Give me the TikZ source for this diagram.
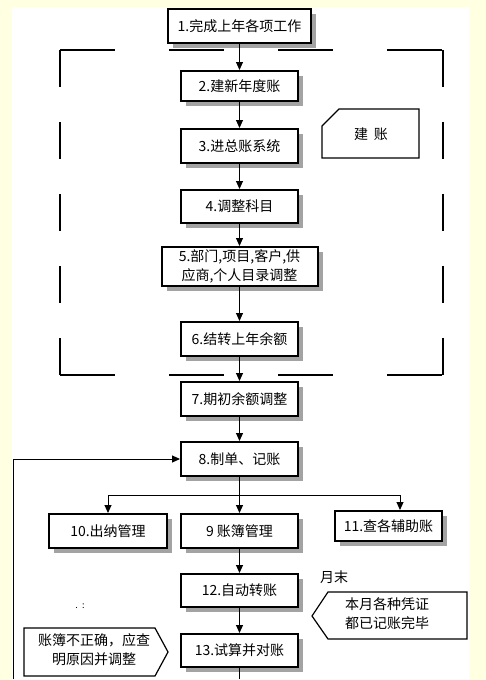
\documentclass[tikz,border=0pt]{standalone}
\usepackage{fontspec}
\setmainfont{Noto Sans CJK SC}
\usetikzlibrary{arrows.meta}
\usetikzlibrary{shadows}
\definecolor{paper}{HTML}{FFFFE1}
\tikzset{
  box/.style={draw, line width=2pt, fill=white, align=center, inner sep=2pt,
    drop shadow={shadow xshift=5pt, shadow yshift=-5pt, fill=black!36, opacity=1}},
  link/.style={line width=1pt, -{Triangle[length=8pt,width=7pt]}},
  wire/.style={line width=1pt},
  frameline/.style={line width=1.5pt, line cap=square},
  note/.style={line width=1.2pt, fill=white}
}
\newcommand{\flowbox}[6]{ \node[box, minimum width=#4pt, minimum height=#5pt] (#1) at ( #2 , #3 ) {#6};}

\begin{document}
\begin{tikzpicture}[x=1pt, y=-1pt, font=\fontsize{14pt}{19pt}\selectfont]
        \useasboundingbox (0,0) rectangle (486,680);
        \fill[paper] (0,0) rectangle (486,680);
        \fill[white] (12,7) rectangle (469,679);
        % dashed frame
        \draw[frameline, dash pattern=on 55pt off 54pt] (60,50) -- (443,50);
        \draw[frameline, dash pattern=on 55pt off 54pt] (60,375) -- (443,375);
        \draw[frameline, dash pattern=on 37pt off 35pt] (60,50) -- (60,375);
        \draw[frameline, dash pattern=on 37pt off 35pt] (443,50) -- (443,375);
        \draw[note] (322,126) -- (339,109) -- (419,109) -- (419,158) -- (322,158) -- cycle;
        \node (tag) at (371,134) {建\hspace{6pt}账};
        % steps
        \flowbox{b1}{239.5}{26}{143}{34}{1.完成上年各项工作}
        \flowbox{b2}{239.5}{86}{117}{30}{2.建新年度账}
        \flowbox{b3}{239.5}{146}{117}{34}{3.进总账系统}
        \flowbox{b4}{239.5}{206.5}{117}{33}{4.调整科目}
        \flowbox{b5}{239.5}{266.5}{156}{39}{5.部门,项目,客户,供\\应商,个人目录调整}
        \flowbox{b6}{239.5}{339}{117}{34}{6.结转上年余额}
        \flowbox{b7}{239.5}{399}{117}{34}{7.期初余额调整}
        \flowbox{b8}{239.5}{459}{117}{34}{8.制单、记账}
        % branches
        \flowbox{b10}{108}{531}{118}{34}{10.出纳管理}
        \flowbox{b9}{239.5}{531}{117}{34}{9 账簿管理}
        \flowbox{b11}{388.5}{526}{107}{30}{11.查各辅助账}
        % month end
        \flowbox{b12}{239.5}{590.5}{117}{33}{12.自动转账}
        \flowbox{b13}{239.5}{650.5}{117}{33}{13.试算并对账}
        % links
        \draw[link] (b1) -- (b2);
        \draw[link] (b2) -- (b3);
        \draw[link] (b3) -- (b4);
        \draw[link] (b4) -- (b5);
        \draw[link] (b5) -- (b6);
        \draw[link] (b6) -- (b7);
        \draw[link] (b7) -- (b8);
        \draw[link] (b8) -- (b9);
        \coordinate (forkL) at (108,495);
        \coordinate (forkR) at (400,495);
        \draw[wire] (forkL) -- (forkR);
        \draw[link] (forkL) -- (b10);
        \draw[link] (forkR) -- (forkR |- b11.north);
        \draw[link] (b9) -- (b12);
        \draw[link] (b12) -- (b13);
        \coordinate (exitB) at (239.5,679);
        \draw[wire] (b13) -- (exitB);
        \coordinate (loopB) at (13,679);
        \draw[link] (loopB) |- (b8.west);
        % callouts
        \node (monthend) at (334,577) {月末};
        \draw[note] (312,616) -- (328,592) -- (467,592) -- (467,639) -- (328,639) -- cycle;
        \node[align=center] (posted) at (387,613.5) {本月各种凭证\\都已记账完毕};
        \draw[note] (24,628) -- (155,628) -- (168,652) -- (155,676) -- (24,676) -- cycle;
        \node[align=center] (wrong) at (94,649.5) {账簿不正确，应查\\明原因并调整};
        \node[font=\fontsize{9pt}{10pt}\selectfont] (dots) at (80,606) {.\ \ :};
    \end{tikzpicture}
\end{document}
